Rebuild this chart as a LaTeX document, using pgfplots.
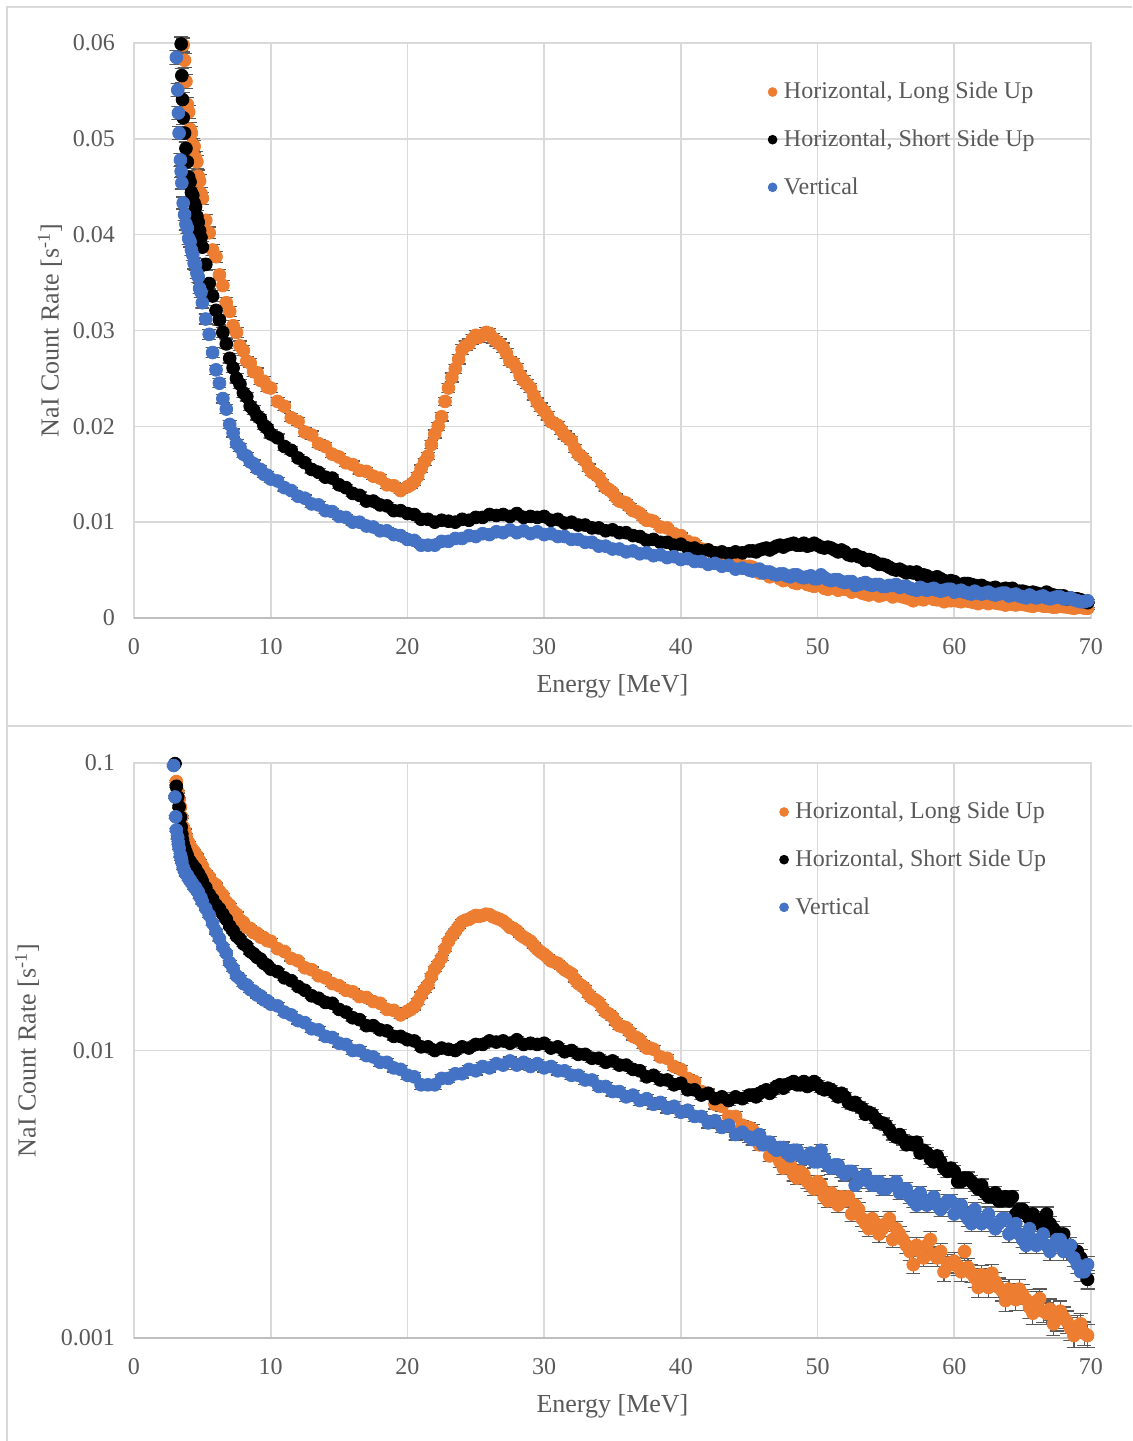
\documentclass[border=0pt]{standalone}
\usepackage{fontspec}
\setmainfont{Liberation Serif}
\usepackage{pgfplots}
\usepackage{pgfplotstable}
\pgfplotsset{compat=1.18}
\definecolor{cOr}{HTML}{ED7D31}
\definecolor{cBl}{HTML}{4472C4}
\definecolor{cTx}{HTML}{595959}
\definecolor{cGr}{HTML}{D9D9D9}
\definecolor{cAx}{HTML}{BFBFBF}
\definecolor{cEr}{HTML}{595959}

\pgfplotstableread{
x y
3.1 0.0862
3.2 0.0795
3.3 0.0748
3.4 0.0702
3.5 0.0648
3.6 0.0598
3.7 0.0582
3.8 0.0560
3.9 0.0536
4.0 0.0528
4.1 0.0510
4.2 0.0506
4.3 0.0494
4.4 0.0492
4.5 0.0480
4.6 0.0476
4.7 0.0461
4.8 0.0456
4.9 0.0443
5.0 0.0438
5.25 0.0415
5.5 0.0402
5.75 0.0384
6.0 0.0377
6.25 0.0358
6.5 0.0347
6.75 0.0329
7.0 0.0320
7.25 0.0305
7.5 0.0298
7.75 0.0284
8.0 0.0279
8.25 0.0268
8.5 0.0266
8.75 0.0257
9.0 0.0256
9.25 0.0248
9.5 0.0247
9.75 0.0241
10.0 0.0240
10.5 0.0226
11.0 0.0221
11.5 0.0209
12.0 0.0205
12.5 0.0194
13.0 0.0191
13.5 0.0182
14.0 0.0179
14.5 0.0171
15.0 0.0168
15.5 0.0162
16.0 0.0160
16.5 0.0154
17.0 0.0153
17.5 0.0148
18.0 0.0146
18.5 0.0139
19.0 0.0138
19.5 0.0133
20.0 0.0137
20.5 0.0142
21.0 0.0156
21.5 0.0169
22.0 0.0192
22.5 0.0210
23.0 0.0240
23.5 0.0260
24.0 0.0280
24.5 0.0286
25.0 0.0295
25.5 0.0295
26.0 0.0297
26.5 0.0289
27.0 0.0282
27.5 0.0268
28.0 0.0261
28.5 0.0248
29.0 0.0240
29.5 0.0225
30.0 0.0216
30.5 0.0205
31.0 0.0201
31.5 0.0191
32.0 0.0185
32.5 0.0171
33.0 0.0164
33.5 0.0152
34.0 0.0147
34.5 0.0136
35.0 0.0131
35.5 0.0122
36.0 0.0120
36.5 0.0112
37.0 0.0109
37.5 0.0102
38.0 0.0101
38.5 0.0095
39.0 0.0094
39.5 0.0088
40.0 0.0086
40.5 0.0080
41.0 0.0078
41.5 0.0072
42.0 0.0071
42.5 0.0065
43.0 0.0064
43.5 0.0059
44.0 0.0059
44.5 0.0055
45.0 0.0054
45.5 0.0050
46.0 0.0048
46.5 0.0043
47.0 0.0044
47.5 0.0039
48.0 0.0040
48.5 0.0036
49.0 0.0037
49.5 0.0034
50.0 0.0035
50.5 0.0031
51.0 0.0032
51.5 0.0029
52.0 0.0030
52.5 0.0027
53.0 0.0028
53.5 0.0025
54.0 0.0026
54.5 0.0023
55.0 0.0025
55.5 0.0022
56.0 0.0023
56.5 0.0021
57.0 0.0018
57.5 0.0020
58.0 0.0021
58.5 0.00195
59.0 0.0020
59.5 0.00182
60.0 0.00185
60.5 0.00170
61.0 0.00176
61.5 0.00162
62.0 0.00166
62.5 0.00150
63.0 0.00157
63.5 0.00146
64.0 0.00148
64.5 0.00136
65.0 0.00142
65.5 0.00128
66.0 0.00134
66.5 0.00124
67.0 0.00126
67.5 0.00116
68.0 0.00118
68.5 0.00108
69.0 0.00110
69.5 0.00104
20.25 0.0139
20.75 0.0148
21.25 0.0163
21.75 0.0181
22.25 0.0200
22.75 0.0226
23.25 0.0251
23.75 0.0270
24.25 0.0284
24.75 0.0291
25.25 0.0293
25.75 0.0298
26.25 0.0292
26.75 0.0286
27.25 0.0276
27.75 0.0266
28.25 0.0253
28.75 0.0244
29.25 0.0232
29.75 0.0220
30.25 0.0211
30.75 0.0203
31.25 0.0196
31.75 0.0188
32.25 0.0177
32.75 0.0168
33.25 0.0157
33.75 0.0150
34.25 0.0141
34.75 0.0134
35.25 0.0126
35.75 0.0121
36.25 0.0116
36.75 0.0111
37.25 0.0105
37.75 0.0102
45.25 0.0053
45.75 0.0047
46.25 0.0047
46.75 0.0045
47.25 0.0041
47.75 0.0041
48.25 0.0037
48.75 0.0038
49.25 0.0035
49.75 0.0033
50.25 0.0034
50.75 0.0030
51.25 0.0031
51.75 0.0031
52.25 0.0031
52.75 0.0029
53.25 0.0026
53.75 0.0024
54.25 0.0025
54.75 0.0024
55.25 0.0026
55.75 0.0024
56.25 0.0022
56.75 0.0020
57.25 0.0021
57.75 0.0019
58.25 0.0022
58.75 0.0019
59.25 0.0017
59.75 0.0018
60.25 0.00178
60.75 0.00200
61.25 0.00168
61.75 0.00150
62.25 0.00162
62.75 0.00168
63.25 0.00150
63.75 0.00135
64.25 0.00143
64.75 0.00148
65.25 0.00136
65.75 0.00122
66.25 0.00137
66.75 0.00122
67.25 0.00112
67.75 0.00124
68.25 0.00114
68.75 0.00102
69.25 0.00112
69.75 0.00102
}\orangeT

\pgfplotstableread{
x y
3.0 0.0995
3.1 0.0830
3.2 0.0762
3.3 0.0705
3.4 0.0648
3.45 0.0599
3.5 0.0566
3.55 0.0541
3.6 0.0522
3.7 0.0506
3.8 0.0490
3.9 0.0476
4.0 0.0460
4.1 0.0455
4.2 0.0444
4.3 0.0441
4.4 0.0433
4.5 0.0429
4.6 0.0419
4.7 0.0413
4.8 0.0404
4.9 0.0397
5.0 0.0387
5.25 0.0369
5.5 0.0349
5.75 0.0336
6.0 0.0321
6.25 0.0311
6.5 0.0298
6.75 0.0286
7.0 0.0271
7.25 0.0261
7.5 0.0250
7.75 0.0244
8.0 0.0235
8.25 0.0231
8.5 0.0221
8.75 0.0217
9.0 0.0211
9.25 0.0208
9.5 0.0201
9.75 0.0198
10.0 0.0192
10.5 0.0188
11.0 0.0179
11.5 0.0175
12.0 0.0167
12.5 0.0162
13.0 0.0155
13.5 0.0152
14.0 0.0147
14.5 0.0146
15.0 0.0139
15.5 0.0136
16.0 0.0130
16.5 0.0128
17.0 0.0122
17.5 0.0122
18.0 0.0118
18.5 0.0117
19.0 0.0112
19.5 0.0112
20.0 0.0109
20.5 0.0108
21.0 0.0103
21.5 0.0103
22.0 0.0100
22.5 0.0102
23.0 0.0101
23.5 0.0100
24.0 0.0103
24.5 0.0102
25.0 0.0105
25.5 0.0105
26.0 0.0108
26.5 0.0107
27.0 0.0108
27.5 0.0106
28.0 0.0109
28.5 0.0105
29.0 0.0106
29.5 0.0105
30.0 0.0106
30.5 0.0102
31.0 0.0103
31.5 0.0099
32.0 0.0100
32.5 0.0097
33.0 0.0097
33.5 0.0094
34.0 0.0094
34.5 0.0091
35.0 0.0092
35.5 0.0089
36.0 0.0089
36.5 0.0086
37.0 0.0085
37.5 0.0081
38.0 0.0082
38.5 0.0079
39.0 0.0079
39.5 0.0076
40.0 0.0077
40.5 0.0073
41.0 0.0073
41.5 0.0070
42.0 0.0071
42.5 0.0068
43.0 0.0069
43.5 0.0067
44.0 0.0069
44.5 0.0068
45.0 0.0070
45.5 0.0069
46.0 0.0072
46.5 0.0071
47.0 0.0075
47.5 0.0074
48.0 0.0077
48.5 0.0076
49.0 0.0078
49.5 0.0076
50.0 0.0076
50.5 0.0073
51.0 0.0073
51.5 0.0069
52.0 0.0069
52.5 0.0065
53.0 0.0064
53.5 0.0060
54.0 0.0060
54.5 0.0056
55.0 0.0055
55.5 0.0051
56.0 0.0051
56.5 0.0047
57.0 0.0047
57.5 0.0044
58.0 0.0044
58.5 0.0041
59.0 0.0041
59.5 0.0038
60.0 0.0038
60.5 0.0035
61.0 0.0036
61.5 0.0034
62.0 0.0034
62.5 0.0031
63.0 0.0032
63.5 0.0030
64.0 0.0030
64.5 0.0027
65.0 0.0028
65.5 0.0026
66.0 0.0026
66.5 0.0024
67.0 0.0025
67.5 0.0023
68.0 0.0023
68.5 0.0021
69.0 0.0020
69.5 0.0017
45.25 0.0070
45.75 0.0071
46.25 0.0073
46.75 0.0073
47.25 0.0076
47.75 0.0076
48.25 0.0078
48.75 0.0076
49.25 0.0075
49.75 0.0078
50.25 0.0074
50.75 0.0074
51.25 0.0071
51.75 0.0071
52.25 0.0066
52.75 0.0066
53.25 0.0063
53.75 0.0061
54.25 0.0058
54.75 0.0056
55.25 0.0053
55.75 0.0050
56.25 0.0049
56.75 0.0048
57.25 0.0048
57.75 0.0045
58.25 0.0042
58.75 0.0043
59.25 0.0039
59.75 0.0039
60.25 0.0035
60.75 0.0036
61.25 0.0035
61.75 0.0033
62.25 0.0032
62.75 0.0031
63.25 0.0030
63.75 0.0031
64.25 0.0031
64.75 0.0028
65.25 0.0027
65.75 0.0027
66.25 0.0025
66.75 0.0027
67.25 0.0024
67.75 0.0023
68.25 0.0020
68.75 0.0020
69.25 0.0019
69.75 0.0016
}\blackT

\pgfplotstableread{
x y
2.9 0.0980
3.0 0.0762
3.05 0.0650
3.1 0.0585
3.2 0.0551
3.25 0.0527
3.3 0.0506
3.4 0.0478
3.45 0.0466
3.5 0.0454
3.6 0.0433
3.7 0.0421
3.8 0.0411
3.9 0.0407
4.0 0.0396
4.1 0.0393
4.2 0.0384
4.3 0.0379
4.4 0.0370
4.5 0.0369
4.6 0.0360
4.7 0.0356
4.8 0.0344
4.9 0.0340
5.0 0.0329
5.25 0.0312
5.5 0.0296
5.75 0.0277
6.0 0.0259
6.25 0.0245
6.5 0.0229
6.75 0.0218
7.0 0.0202
7.25 0.0193
7.5 0.0182
7.75 0.0178
8.0 0.0171
8.25 0.0169
8.5 0.0163
8.75 0.0161
9.0 0.0156
9.25 0.0155
9.5 0.0150
9.75 0.0149
10.0 0.0145
10.5 0.0143
11.0 0.0136
11.5 0.0133
12.0 0.0127
12.5 0.0125
13.0 0.0119
13.5 0.0118
14.0 0.0112
14.5 0.0111
15.0 0.0106
15.5 0.0105
16.0 0.0100
16.5 0.0100
17.0 0.0096
17.5 0.0095
18.0 0.0091
18.5 0.0091
19.0 0.0087
19.5 0.0086
20.0 0.0082
20.5 0.0081
21.0 0.0076
21.5 0.0076
22.0 0.0076
22.5 0.0080
23.0 0.0080
23.5 0.0083
24.0 0.0083
24.5 0.0086
25.0 0.0085
25.5 0.0088
26.0 0.0087
26.5 0.0090
27.0 0.0089
27.5 0.0092
28.0 0.0089
28.5 0.0091
29.0 0.0088
29.5 0.0090
30.0 0.0087
30.5 0.0088
31.0 0.0085
31.5 0.0085
32.0 0.0082
32.5 0.0082
33.0 0.0079
33.5 0.0079
34.0 0.0075
34.5 0.0075
35.0 0.0072
35.5 0.0072
36.0 0.0069
36.5 0.0070
37.0 0.0067
37.5 0.0068
38.0 0.0065
38.5 0.0066
39.0 0.0063
39.5 0.0064
40.0 0.0061
40.5 0.0062
41.0 0.0059
41.5 0.0059
42.0 0.0056
42.5 0.0057
43.0 0.0054
43.5 0.0055
44.0 0.0051
44.5 0.0052
45.0 0.0050
45.5 0.0050
46.0 0.0047
46.5 0.0048
47.0 0.0045
47.5 0.0046
48.0 0.0043
48.5 0.0045
49.0 0.0042
49.5 0.0044
50.0 0.0041
50.5 0.0042
51.0 0.0039
51.5 0.0040
52.0 0.0037
52.5 0.0038
53.0 0.0035
53.5 0.0037
54.0 0.0034
54.5 0.0035
55.0 0.0033
55.5 0.0034
56.0 0.0032
56.5 0.0033
57.0 0.0030
57.5 0.0032
58.0 0.0029
58.5 0.0031
59.0 0.0028
59.5 0.0030
60.0 0.0027
60.5 0.0029
61.0 0.0026
61.5 0.0028
62.0 0.0025
62.5 0.0027
63.0 0.0024
63.5 0.0026
64.0 0.0023
64.5 0.0025
65.0 0.0022
65.5 0.0024
66.0 0.0021
66.5 0.0023
67.0 0.0020
67.5 0.0022
68.0 0.0020
68.5 0.0021
69.0 0.0018
69.5 0.0017
45.25 0.0049
45.75 0.0051
46.25 0.0048
46.75 0.0046
47.25 0.0046
47.75 0.0044
48.25 0.0045
48.75 0.0043
49.25 0.0043
49.75 0.0041
50.25 0.0045
50.75 0.0040
51.25 0.0040
51.75 0.0038
52.25 0.0038
52.75 0.0034
53.25 0.0036
53.75 0.0035
54.25 0.0035
54.75 0.0033
55.25 0.0034
55.75 0.0035
56.25 0.0033
56.75 0.0031
57.25 0.0029
57.75 0.0030
58.25 0.0030
58.75 0.0029
59.25 0.0029
59.75 0.0030
60.25 0.0028
60.75 0.0027
61.25 0.0025
61.75 0.0026
62.25 0.0026
62.75 0.0025
63.25 0.0025
63.75 0.0026
64.25 0.0024
64.75 0.0023
65.25 0.0021
65.75 0.0022
66.25 0.0022
66.75 0.0021
67.25 0.0021
67.75 0.0022
68.25 0.0020
68.75 0.0019
69.25 0.0017
69.75 0.0018
}\blueT

\pgfplotsset{
  panel/.style={
    scale only axis, width=478.5pt, height=287.5pt,
    xmin=0, xmax=70, xtick={0,10,20,30,40,50,60,70},
    xticklabels={0,10,20,30,40,50,60,70},
    scaled y ticks=false, yminorticks=false, xminorticks=false,
    grid=major, major grid style={draw=cGr, line width=0.8pt},
    axis line style={draw=cGr, line width=0.8pt},
    major tick length=0pt, minor tick length=0pt,
    tick label style={font=\fontsize{12}{14}\selectfont, text=cTx},
    xticklabel style={yshift=-6.5pt},
    yticklabel style={xshift=-6pt},
    label style={font=\fontsize{13}{15}\selectfont, text=cTx},
    xlabel={Energy [MeV]},
    ylabel={NaI Count Rate [s\textsuperscript{-1}]},
    xlabel style={at={(axis description cs:0.5,-0.118)}, anchor=center},
    clip=false,
    legend style={draw=none, fill=none, font=\fontsize{12}{14}\selectfont,
      text=cTx, legend cell align=left, row sep=12pt, anchor=north west,
      nodes={inner sep=1pt},
      /tikz/every odd column/.append style={column sep=2.5pt}},
    legend image code/.code={\draw[#1] plot coordinates {(0pt,0pt)};},
  },
  ser/.style={only marks, mark=*, mark size=3.2pt, color=#1, forget plot,
    error bars/.cd, y dir=both, y explicit,
    draw error bar/.code 2 args={%
      \draw[cEr, line width=0.6pt] ##1 -- ##2 -- ++(-3.5pt,0pt) -- ++(7pt,0pt);}},
}

\begin{document}
\begin{tikzpicture}
\path[use as bounding box] (0pt,0pt) rectangle (566pt,-720.5pt);
\draw[cGr, line width=1pt] (3.5pt,-720.5pt) -- (3.5pt,-3.5pt) -- (566pt,-3.5pt);
\draw[cGr, line width=1pt] (3.5pt,-363pt) -- (566pt,-363pt);

\begin{axis}[panel, at={(67pt,-309pt)}, anchor=south west,
  ymin=0, ymax=0.06, ytick={0,0.01,0.02,0.03,0.04,0.05,0.06},
  yticklabels={0,0.01,0.02,0.03,0.04,0.05,0.06},
  restrict y to domain=-0.01:0.0603,
  ylabel style={at={(axis description cs:-0.0878,0.5)}, anchor=center},
  legend style={at={(axis description cs:0.656,0.943)}}]
\draw[cAx, line width=1pt] (rel axis cs:0,0) -- (rel axis cs:1,0);
\addplot[ser=cOr] table[x=x, y=y, y error expr={0.003*sqrt(\thisrow{y})}] {\orangeT};
\addplot[ser=black] table[x=x, y=y, y error expr={0.003*sqrt(\thisrow{y})}] {\blackT};
\addplot[ser=cBl] table[x=x, y=y, y error expr={0.003*sqrt(\thisrow{y})}] {\blueT};
\addlegendimage{only marks, mark=*, mark size=2.2pt, color=cOr}
\addlegendentry{Horizontal, Long Side Up}
\addlegendimage{only marks, mark=*, mark size=2.2pt, color=black}
\addlegendentry{Horizontal, Short Side Up}
\addlegendimage{only marks, mark=*, mark size=2.2pt, color=cBl}
\addlegendentry{Vertical}
\end{axis}

\begin{axis}[panel, at={(67pt,-669pt)}, anchor=south west,
  ymode=log, ymin=0.001, ymax=0.1, ytick={0.001,0.01,0.1},
  yticklabels={0.001,0.01,0.1},
  ylabel style={at={(axis description cs:-0.1118,0.5)}, anchor=center},
  legend style={at={(axis description cs:0.668,0.943)}}]
\draw[cAx, line width=1pt] (rel axis cs:0,0) -- (rel axis cs:1,0);
\addplot[ser=cOr] table[x=x, y=y, y error expr={0.003*sqrt(\thisrow{y})}] {\orangeT};
\addplot[ser=black] table[x=x, y=y, y error expr={0.003*sqrt(\thisrow{y})}] {\blackT};
\addplot[ser=cBl] table[x=x, y=y, y error expr={0.003*sqrt(\thisrow{y})}] {\blueT};
\addlegendimage{only marks, mark=*, mark size=2.2pt, color=cOr}
\addlegendentry{Horizontal, Long Side Up}
\addlegendimage{only marks, mark=*, mark size=2.2pt, color=black}
\addlegendentry{Horizontal, Short Side Up}
\addlegendimage{only marks, mark=*, mark size=2.2pt, color=cBl}
\addlegendentry{Vertical}
\end{axis}
\end{tikzpicture}
\end{document}
